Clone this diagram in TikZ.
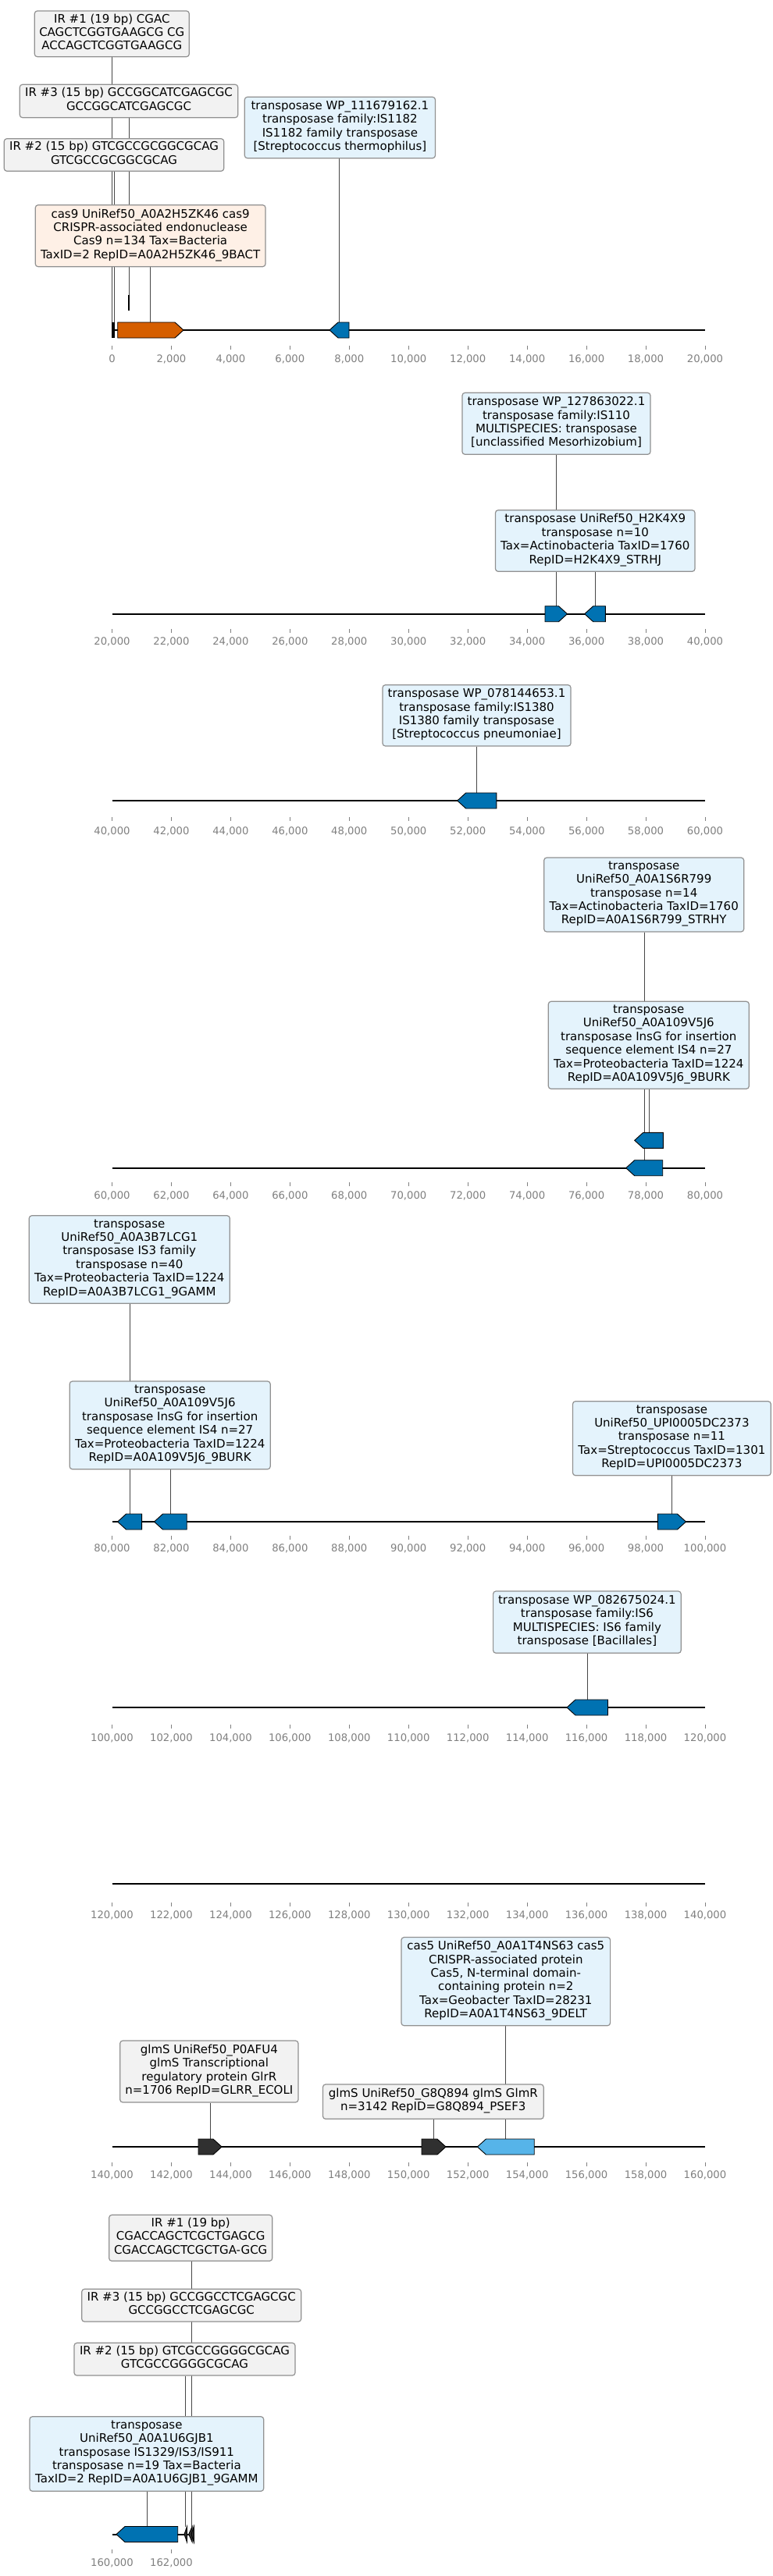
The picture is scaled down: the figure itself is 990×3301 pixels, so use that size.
\documentclass[tikz,border=0pt]{standalone}
\usepackage{fontspec}
\setmainfont{DejaVu Sans}
\pgfdeclarelayer{paperlayer}
\pgfdeclarelayer{connlayer}
\pgfsetlayers{paperlayer,connlayer,main}
\definecolor{genblue}{HTML}{0072B2}
\definecolor{genorange}{HTML}{D55E00}
\definecolor{gensky}{HTML}{56B4E9}
\definecolor{gendark}{HTML}{303030}
\definecolor{boxgray}{HTML}{F2F2F2}
\definecolor{boxblue}{RGB}{228,243,252}
\definecolor{boxorange}{RGB}{254,240,230}
\definecolor{boxedge}{RGB}{145,145,145}
\definecolor{tickgray}{RGB}{128,128,128}
\tikzset{
 labbase/.style={draw=boxedge, line width=1.2pt, rounded corners=3.5pt, align=center, inner sep=0pt,
   font=\fontsize{15}{17.4}\selectfont, execute at begin node=\strut, execute at end node=\strut},
 gbox/.style={labbase, fill=boxgray},
 bbox/.style={labbase, fill=boxblue},
 obox/.style={labbase, fill=boxorange},
 conn/.style={draw=black!72, line width=0.8pt},
 trackline/.style={line width=2pt, draw=black},
 tickmark/.style={draw=tickgray, line width=0.8pt},
 ticklabel/.style={text=tickgray, font=\fontsize{13.2}{15}\selectfont, inner sep=0pt},
 gene/.style={draw=black, line width=0.9pt, line join=miter},
}
\newcommand\labbox[7][gbox]{\node[#1, minimum width={#4-#3}, minimum height={#6-#5}] (#2) at ({(#3+#4)/2},{(#5+#6)/2}) {#7};}
\newcommand\fwdgene[5]{%
 \filldraw[gene, fill=#5] (#2,{#4-10}) -- ({#3-11},{#4-10}) -- (#3,#4) -- ({#3-11},{#4+10}) -- (#2,{#4+10}) -- cycle;
 \coordinate (#1) at ({(#2+#3)/2},{#4-10});}
\newcommand\revgene[5]{%
 \filldraw[gene, fill=#5] (#3,{#4-10}) -- ({#2+11},{#4-10}) -- (#2,#4) -- ({#2+11},{#4+10}) -- (#3,{#4+10}) -- cycle;
 \coordinate (#1) at ({(#2+#3)/2},{#4-10});}
\newcommand\link[2]{\begin{pgfonlayer}{connlayer}\draw[conn] (#2 |- #1.south) -- (#2);\end{pgfonlayer}}
\newcommand\axisrow[4]{%
 \foreach \i in {0,...,#4}{%
  \pgfmathtruncatemacro\tv{#3+2*\i}%
  \draw[tickmark] ({143.5+75.95*\i},#1) -- ++(0,5);
  \node[ticklabel] (tl-#3-\i) at ({143.5+75.95*\i},#2) {\ifnum\tv=0 0\else\tv,000\fi};
 }}
\begin{document}
\begin{tikzpicture}[x=1pt,y=-1pt]
\useasboundingbox (0,0) rectangle (990,3301);
\begin{pgfonlayer}{paperlayer}
\fill[white] (0,0) rectangle (990,3301);
\end{pgfonlayer}

% ---------------- track lines
\draw[trackline] (143.5,423) -- (903,423);
\draw[trackline] (143.5,786.7) -- (903,786.7);
\draw[trackline] (143.5,1026) -- (903,1026);
\draw[trackline] (143.5,1496.7) -- (903,1496.7);
\draw[trackline] (143.5,1950) -- (903,1950);
\draw[trackline] (143.5,2188) -- (903,2188);
\draw[trackline] (143.5,2414) -- (903,2414);
\draw[trackline] (143.5,2751) -- (903,2751);
\draw[trackline] (143.5,3247.5) -- (248,3247.5);

% ---------------- axes
\axisrow{443}{460}{0}{10}
\axisrow{806}{822}{20}{10}
\axisrow{1047}{1065}{40}{10}
\axisrow{1515}{1532}{60}{10}
\axisrow{1968}{1984}{80}{10}
\axisrow{2210}{2227}{100}{10}
\axisrow{2438}{2454}{120}{10}
\axisrow{2771}{2787}{140}{10}
\axisrow{3267}{3284}{160}{1}

% ---------------- features, track 1
\fill[black] (143.2,413) rectangle (144.8,433);
\coordinate (fir1) at (143.8,413);
\fill[black] (145.4,413) rectangle (147.4,433);
\coordinate (fir2) at (146.5,413);
\fill[black] (164.3,378) rectangle (166.3,398);
\coordinate (fir3) at (165.3,378);
\fwdgene{fcas9}{150.7}{235}{423}{genorange}
\revgene{fwp1}{422}{447}{423}{genblue}
% track 2
\fwdgene{fh2a}{698}{726.5}{786.7}{genblue}
\revgene{fh2b}{748.7}{775.4}{786.7}{genblue}
% track 3
\revgene{fwp3}{585.7}{635.8}{1026}{genblue}
% track 4
\revgene{ft4up}{812.7}{849.3}{1461.3}{genblue}
\revgene{ft4lo}{801.7}{848.7}{1496.7}{genblue}
% track 5
\revgene{ft5a}{150.6}{181.6}{1950}{genblue}
\revgene{ft5b}{197.5}{239.2}{1950}{genblue}
\fwdgene{ft5c}{842.4}{878.5}{1950}{genblue}
% track 6
\revgene{ft6}{726}{778.5}{2188}{genblue}
% track 8
\fwdgene{fg1}{254}{284}{2751}{gendark}
\fwdgene{fg2}{540}{571}{2751}{gendark}
\revgene{fc5}{611.4}{684.2}{2751}{gensky}
% track 9
\revgene{fm9}{149}{227.7}{3247.5}{genblue}
\filldraw[gene, fill=gendark] (239.5,3237.5) -- (236,3247.5) -- (239.5,3257.5) -- cycle;
\coordinate (fir2b) at (237,3237.5);
\filldraw[gene, fill=gendark] (246.2,3237.5) -- (241.7,3247.5) -- (246.2,3257.5) -- cycle;
\filldraw[gene, fill=gendark] (248.3,3237.5) -- (245,3247.5) -- (248.3,3257.5) -- cycle;
\coordinate (fir13b) at (245,3237.5);

% ---------------- label boxes, track 1
\labbox{bir1}{44.3}{242.3}{14}{72.7}{IR \#1 (19 bp) CGAC\\CAGCTCGGTGAAGCG CG\\ACCAGCTCGGTGAAGCG}
\labbox{bir3}{25.3}{304.7}{108.3}{150.7}{IR \#3 (15 bp) GCCGGCATCGAGCGC\\GCCGGCATCGAGCGC}
\labbox{bir2}{5.3}{286.7}{177.7}{219.3}{IR \#2 (15 bp) GTCGCCGCGGCGCAG\\GTCGCCGCGGCGCAG}
\labbox[obox]{bcas9}{45.3}{340}{262.7}{341.7}{cas9 UniRef50\_A0A2H5ZK46 cas9\\CRISPR-associated endonuclease\\Cas9 n=134 Tax=Bacteria\\TaxID=2 RepID=A0A2H5ZK46\_9BACT}
\labbox[bbox]{bwp1}{313.3}{557.5}{124.3}{202.7}{transposase WP\_111679162.1\\transposase family:IS1182\\IS1182 family transposase\\{[}Streptococcus thermophilus{]}}
% track 2
\labbox[bbox]{bwp2}{592}{833}{503.3}{582.3}{transposase WP\_127863022.1\\transposase family:IS110\\MULTISPECIES: transposase\\{[}unclassified Mesorhizobium{]}}
\labbox[bbox]{bh2k}{634.5}{890}{653.7}{732.3}{transposase UniRef50\_H2K4X9\\transposase n=10\\Tax=Actinobacteria TaxID=1760\\RepID=H2K4X9\_STRHJ}
% track 3
\labbox[bbox]{bwp3}{490}{731}{877.7}{956}{transposase WP\_078144653.1\\transposase family:IS1380\\IS1380 family transposase\\{[}Streptococcus pneumoniae{]}}
% track 4
\labbox[bbox]{bA}{696.7}{952.7}{1099}{1194}{transposase\\UniRef50\_A0A1S6R799\\transposase n=14\\Tax=Actinobacteria TaxID=1760\\RepID=A0A1S6R799\_STRHY}
\labbox[bbox]{bB}{702.3}{959.3}{1283.3}{1395.3}{transposase\\UniRef50\_A0A109V5J6\\transposase InsG for insertion\\sequence element IS4 n=27\\Tax=Proteobacteria TaxID=1224\\RepID=A0A109V5J6\_9BURK}
% track 5
\labbox[bbox]{bC}{37.3}{294.3}{1557.7}{1670.3}{transposase\\UniRef50\_A0A3B7LCG1\\transposase IS3 family\\transposase n=40\\Tax=Proteobacteria TaxID=1224\\RepID=A0A3B7LCG1\_9GAMM}
\labbox[bbox]{bD}{89.2}{346.2}{1770}{1882.7}{transposase\\UniRef50\_A0A109V5J6\\transposase InsG for insertion\\sequence element IS4 n=27\\Tax=Proteobacteria TaxID=1224\\RepID=A0A109V5J6\_9BURK}
\labbox[bbox]{bE}{733.5}{987.3}{1795.7}{1890.7}{transposase\\UniRef50\_UPI0005DC2373\\transposase n=11\\Tax=Streptococcus TaxID=1301\\RepID=UPI0005DC2373}
% track 6
\labbox[bbox]{bF}{631.6}{872.2}{2039}{2118.3}{transposase WP\_082675024.1\\transposase family:IS6\\MULTISPECIES: IS6 family\\transposase {[}Bacillales{]}}
% track 8
\labbox[bbox]{bG}{514}{781.6}{2482.5}{2595.7}{cas5 UniRef50\_A0A1T4NS63 cas5\\CRISPR-associated protein\\Cas5, N-terminal domain-\\containing protein n=2\\Tax=Geobacter TaxID=28231\\RepID=A0A1T4NS63\_9DELT}
\labbox{bH}{153.7}{382}{2615}{2694}{glmS UniRef50\_P0AFU4\\glmS Transcriptional\\regulatory protein GlrR\\n=1706 RepID=GLRR\_ECOLI}
\labbox{bI}{413.5}{696.2}{2671}{2715.3}{glmS UniRef50\_G8Q894 glmS GlmR\\n=3142 RepID=G8Q894\_PSEF3}
% track 9
\labbox{bJ}{139.7}{348.7}{2838.3}{2897.3}{IR \#1 (19 bp)\\CGACCAGCTCGCTGAGCG\\CGACCAGCTCGCTGA-GCG}
\labbox{bK}{104.7}{385.7}{2933.3}{2975}{IR \#3 (15 bp) GCCGGCCTCGAGCGC\\GCCGGCCTCGAGCGC}
\labbox{bL}{95}{378}{3002.3}{3044}{IR \#2 (15 bp) GTCGCCGGGGCGCAG\\GTCGCCGGGGCGCAG}
\labbox[bbox]{bM}{38}{337.7}{3096.7}{3192.3}{transposase\\UniRef50\_A0A1U6GJB1\\transposase IS1329/IS3/IS911\\transposase n=19 Tax=Bacteria\\TaxID=2 RepID=A0A1U6GJB1\_9GAMM}

% ---------------- connectors
\link{bir1}{fir1}
\link{bir2}{fir2}
\link{bir3}{fir3}
\link{bcas9}{fcas9}
\link{bwp1}{fwp1}
\link{bwp2}{fh2a}
\link{bh2k}{fh2b}
\link{bwp3}{fwp3}
\link{bA}{ft4lo}
\link{bB}{ft4up}
\link{bC}{ft5a}
\link{bD}{ft5b}
\link{bE}{ft5c}
\link{bF}{ft6}
\link{bG}{fc5}
\link{bH}{fg1}
\link{bI}{fg2}
\link{bJ}{fir13b}
\link{bK}{fir13b}
\link{bL}{fir2b}
\link{bM}{fm9}
\end{tikzpicture}
\end{document}
